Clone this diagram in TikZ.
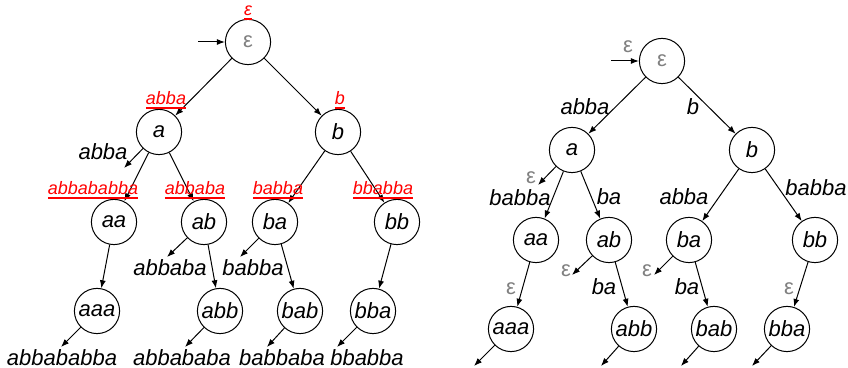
\documentclass[tikz,border=0pt]{standalone}
\usepackage{fontspec}
\setmainfont{Liberation Sans}
\usetikzlibrary{arrows.meta}

% empty word, set in grey
\newcommand\epsw{{\upshape\color{gray}ε}}
% red word with a thick rule under it
\newcommand\redword[1]{\setbox0\hbox{#1}\rlap{\copy0}\rule[-2.2pt]{\wd0}{1.2pt}}

\begin{document}
\begin{tikzpicture}[x=0.5pt, y=-0.5pt, line width=0.5pt,
    state/.style={draw, circle, minimum size=22.6pt, inner sep=0pt,
        font=\fontsize{11}{13}\selectfont\itshape},
    lab/.style={inner sep=0pt, font=\fontsize{11}{13}\selectfont\itshape},
    hitlab/.style={inner sep=0pt, anchor=base, text=red,
        font=\fontsize{9}{11}\selectfont\itshape},
    link/.style={-{Latex[length=4pt,width=3pt]}}]
    \useasboundingbox (0,0) rectangle (848,368);

    % left tree
    \node[state] (Lroot) at (248,42) {\epsw};
    \node[state] (La) at (159,132) {a};
    \node[state] (Lb) at (338,132) {b};
    \node[state] (Laa) at (114,222) {aa};
    \node[state] (Lab) at (204,222) {ab};
    \node[state] (Lba) at (275,222) {ba};
    \node[state] (Lbb) at (397,222) {bb};
    \node[state] (Laaa) at (97,311) {aaa};
    \node[state] (Labb) at (220,311) {abb};
    \node[state] (Lbab) at (300,311) {bab};
    \node[state] (Lbba) at (373,311) {bba};

    \coordinate (Lin) at (198,42);
    \draw[link] (Lin) -- (Lroot);
    \draw[link] (Lroot) -- (La);
    \draw[link] (Lroot) -- (Lb);
    \draw[link] (La) -- (Laa);
    \draw[link] (La) -- (Lab);
    \draw[link] (Lb) -- (Lba);
    \draw[link] (Lb) -- (Lbb);
    \draw[link] (Laa) -- (Laaa);
    \draw[link] (Lab) -- (Labb);
    \draw[link] (Lba) -- (Lbab);
    \draw[link] (Lbb) -- (Lbba);

    % red words over the states
    \node[hitlab] (Hroot) at (248,16) {\redword{ε}};
    \node[hitlab] (Ha) at (166,105) {\redword{abba}};
    \node[hitlab] (Hb) at (340,105) {\redword{b}};
    \node[hitlab] (Haa) at (93,195) {\redword{abbababba}};
    \node[hitlab] (Hab) at (195,195) {\redword{abbaba}};
    \node[hitlab] (Hba) at (278,195) {\redword{babba}};
    \node[hitlab] (Hbb) at (383,195) {\redword{bbabba}};

    % open ends
    \coordinate (La0) at (124,168);
    \coordinate (Lab0) at (167,257);
    \coordinate (Lba0) at (240,257);
    \coordinate (Laaa0) at (61,347);
    \coordinate (Labb0) at (185,347);
    \coordinate (Lbab0) at (267,347);
    \coordinate (Lbba0) at (337,347);
    \draw[link] (La) -- (La0);
    \draw[link] (Lab) -- (Lab0);
    \draw[link] (Lba) -- (Lba0);
    \draw[link] (Laaa) -- (Laaa0);
    \draw[link] (Labb) -- (Labb0);
    \draw[link] (Lbab) -- (Lbab0);
    \draw[link] (Lbba) -- (Lbba0);
    \node[lab] (Oa) at (103,152) {abba};
    \node[lab] (Oab) at (170,268) {abbaba};
    \node[lab] (Oba) at (253,268) {babba};
    \node[lab] (Oaaa) at (62,358) {abbababba};
    \node[lab] (Oabb) at (182,358) {abbababa};
    \node[lab] (Obab) at (282,358) {babbaba};
    \node[lab] (Obba) at (367,358) {bbabba};

    % right tree
    \node[state] (Rroot) at (662,61) {\epsw};
    \node[state] (Ra) at (572,150) {a};
    \node[state] (Rb) at (752,150) {b};
    \node[state] (Raa) at (536,240) {aa};
    \node[state] (Rab) at (609,240) {ab};
    \node[state] (Rba) at (689,240) {ba};
    \node[state] (Rbb) at (815,240) {bb};
    \node[state] (Raaa) at (511,329) {aaa};
    \node[state] (Rabb) at (634,329) {abb};
    \node[state] (Rbab) at (714,329) {bab};
    \node[state] (Rbba) at (787,329) {bba};

    \coordinate (Rin) at (611,61);
    \node[lab] (Ein) at (628,47) {\epsw};
    \draw[link] (Rin) -- (Rroot);
    \draw[link] (Rroot) -- (Ra);
    \draw[link] (Rroot) -- (Rb);
    \draw[link] (Ra) -- (Raa);
    \draw[link] (Ra) -- (Rab);
    \draw[link] (Rb) -- (Rba);
    \draw[link] (Rb) -- (Rbb);
    \draw[link] (Raa) -- (Raaa);
    \draw[link] (Rab) -- (Rabb);
    \draw[link] (Rba) -- (Rbab);
    \draw[link] (Rbb) -- (Rbba);

    % edge words
    \node[lab] (Wa) at (585,107) {abba};
    \node[lab] (Wb) at (693,107) {b};
    \node[lab] (Waa) at (520,198) {babba};
    \node[lab] (Wab) at (609,197) {ba};
    \node[lab] (Wba) at (684,197) {abba};
    \node[lab] (Wbb) at (816,188) {babba};
    \node[lab] (Waaa) at (511,289) {\epsw};
    \node[lab] (Wabb) at (604,287) {ba};
    \node[lab] (Wbab) at (687,287) {ba};
    \node[lab] (Wbba) at (789,289) {\epsw};

    % open ends
    \coordinate (Ra0) at (538,185);
    \coordinate (Rab0) at (572,275);
    \coordinate (Rba0) at (654,275);
    \coordinate (Raaa0) at (474,366);
    \coordinate (Rabb0) at (601,366);
    \coordinate (Rbab0) at (681,366);
    \coordinate (Rbba0) at (752,366);
    \draw[link] (Ra) -- (Ra0);
    \draw[link] (Rab) -- (Rab0);
    \draw[link] (Rba) -- (Rba0);
    \draw[link] (Raaa) -- (Raaa0);
    \draw[link] (Rabb) -- (Rabb0);
    \draw[link] (Rbab) -- (Rbab0);
    \draw[link] (Rbba) -- (Rbba0);
    \node[lab] (Ea) at (531,178) {\epsw};
    \node[lab] (Eab) at (566,271) {\epsw};
    \node[lab] (Eba) at (647,271) {\epsw};
\end{tikzpicture}
\end{document}
